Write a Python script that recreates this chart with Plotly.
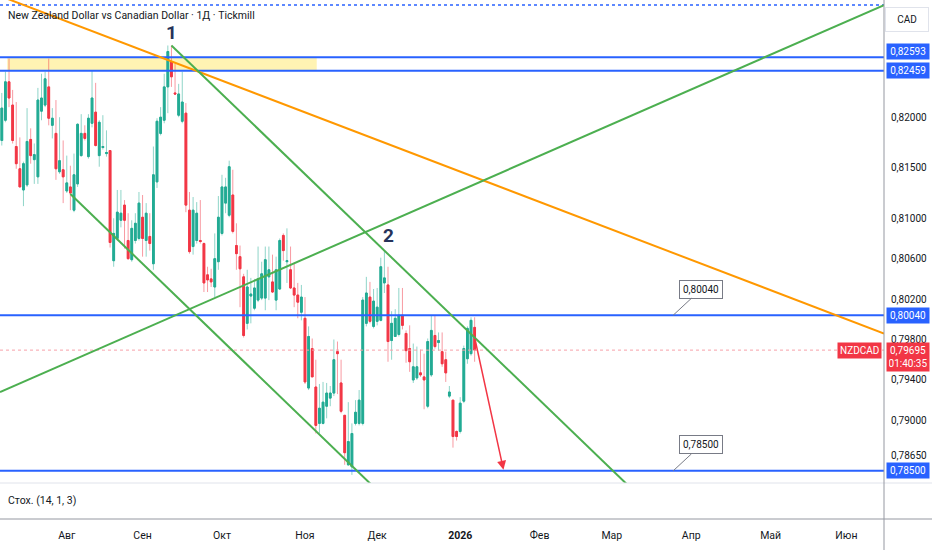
import pandas as pd
import plotly.graph_objects as go

# daily bars NZDCAD, Tickmill, weekdays from 8 Jul 2025
dates = pd.bdate_range("2025-07-08", periods=132)

opens = [0.8177, 0.8197, 0.8235, 0.8212, 0.8171, 0.8149, 0.8128, 0.8133, 0.8178, 0.8158,
         0.8141, 0.8206, 0.8212, 0.8230, 0.8192, 0.8184, 0.8146, 0.8148, 0.8127, 0.8131,
         0.8108, 0.8134, 0.8162, 0.8184, 0.8161, 0.8194, 0.8205, 0.8162, 0.8170, 0.8164,
         0.8167, 0.8058, 0.8080, 0.8098, 0.8113, 0.8078, 0.8059, 0.8078, 0.8080, 0.8101,
         0.8078, 0.8082, 0.8055, 0.8136, 0.8184, 0.8197, 0.8230, 0.8255, 0.8224, 0.8202,
         0.8196, 0.8204, 0.8108, 0.8072, 0.8078, 0.8078, 0.8075, 0.8044, 0.8040, 0.8032,
         0.8057, 0.8085, 0.8115, 0.8103, 0.8123, 0.8073, 0.8062, 0.8042, 0.7996, 0.8023,
         0.8011, 0.8019, 0.8021, 0.8021, 0.8042, 0.8037, 0.8019, 0.8030, 0.8083, 0.8057,
         0.8049, 0.8031, 0.8024, 0.8007, 0.8001, 0.7932, 0.7971, 0.7933, 0.7897, 0.7897,
         0.7914, 0.7922, 0.7927, 0.7968, 0.7937, 0.7905, 0.7856, 0.7854, 0.7897, 0.7897,
         0.7897, 0.7996, 0.8022, 0.7993, 0.7998, 0.7999, 0.8036, 0.8034, 0.7979, 0.7983,
         0.7985, 0.8004, 0.7986, 0.7971, 0.7940, 0.7942, 0.7947, 0.7943, 0.7914, 0.7945,
         0.7984, 0.7977, 0.7968, 0.7960, 0.7924, 0.7920, 0.7889, 0.7889, 0.7919, 0.7961,
         0.7966, 0.7992]
highs = [0.8224, 0.8245, 0.8258, 0.8227, 0.8215, 0.8180, 0.8156, 0.8209, 0.8189, 0.8174,
         0.8229, 0.8243, 0.8245, 0.8258, 0.8209, 0.8217, 0.8200, 0.8177, 0.8162, 0.8152,
         0.8164, 0.8194, 0.8203, 0.8192, 0.8203, 0.8246, 0.8234, 0.8197, 0.8202, 0.8187,
         0.8167, 0.8100, 0.8128, 0.8128, 0.8118, 0.8105, 0.8098, 0.8105, 0.8126, 0.8123,
         0.8115, 0.8105, 0.8171, 0.8199, 0.8210, 0.8243, 0.8271, 0.8271, 0.8253, 0.8233,
         0.8245, 0.8214, 0.8126, 0.8121, 0.8116, 0.8118, 0.8076, 0.8052, 0.8050, 0.8085,
         0.8122, 0.8143, 0.8140, 0.8157, 0.8148, 0.8095, 0.8073, 0.8045, 0.8049, 0.8041,
         0.8040, 0.8072, 0.8057, 0.8072, 0.8072, 0.8064, 0.8062, 0.8080, 0.8085, 0.8090,
         0.8072, 0.8055, 0.8036, 0.8034, 0.8022, 0.7993, 0.7981, 0.7960, 0.7936, 0.7938,
         0.7937, 0.7934, 0.7980, 0.7978, 0.7960, 0.7905, 0.7918, 0.7897, 0.7920, 0.7930,
         0.8022, 0.8042, 0.8037, 0.8030, 0.8031, 0.8061, 0.8068, 0.8052, 0.8008, 0.8010,
         0.8031, 0.8031, 0.7989, 0.7994, 0.7976, 0.7973, 0.7970, 0.7966, 0.7981, 0.8004,
         0.8004, 0.7987, 0.7987, 0.7968, 0.7934, 0.7920, 0.7890, 0.7923, 0.7974, 0.7993,
         0.8002, 0.8002]
lows = [0.8172, 0.8195, 0.8210, 0.8174, 0.8149, 0.8131, 0.8112, 0.8131, 0.8154, 0.8134,
        0.8134, 0.8197, 0.8210, 0.8192, 0.8179, 0.8138, 0.8144, 0.8115, 0.8125, 0.8108,
        0.8106, 0.8131, 0.8161, 0.8177, 0.8159, 0.8190, 0.8171, 0.8151, 0.8168, 0.8161,
        0.8071, 0.8052, 0.8078, 0.8091, 0.8070, 0.8059, 0.8057, 0.8075, 0.8078, 0.8062,
        0.8062, 0.8068, 0.8049, 0.8130, 0.8182, 0.8194, 0.8204, 0.8230, 0.8222, 0.8200,
        0.8194, 0.8106, 0.8065, 0.8064, 0.8075, 0.8075, 0.8027, 0.8027, 0.8032, 0.8022,
        0.8049, 0.8083, 0.8105, 0.8101, 0.8085, 0.8049, 0.8012, 0.7982, 0.7990, 0.7996,
        0.8009, 0.8017, 0.8019, 0.8009, 0.8019, 0.8026, 0.8009, 0.8029, 0.8058, 0.8036,
        0.8030, 0.8012, 0.8001, 0.7999, 0.7936, 0.7930, 0.7943, 0.7887, 0.7887, 0.7896,
        0.7902, 0.7914, 0.7924, 0.7926, 0.7907, 0.7856, 0.7855, 0.7846, 0.7895, 0.7895,
        0.7895, 0.7993, 0.7996, 0.7991, 0.7994, 0.7998, 0.8026, 0.7958, 0.7960, 0.7983,
        0.7983, 0.7990, 0.7957, 0.7948, 0.7937, 0.7940, 0.7943, 0.7911, 0.7912, 0.7943,
        0.7971, 0.7969, 0.7953, 0.7938, 0.7922, 0.7873, 0.7880, 0.7887, 0.7917, 0.7956,
        0.7964, 0.7958]
closes = [0.8209, 0.8235, 0.8219, 0.8177, 0.8154, 0.8131, 0.8154, 0.8176, 0.8162, 0.8163,
          0.8217, 0.8219, 0.8238, 0.8199, 0.8199, 0.8149, 0.8157, 0.8141, 0.8135, 0.8125,
          0.8143, 0.8193, 0.8184, 0.8179, 0.8199, 0.8219, 0.8172, 0.8195, 0.8171, 0.8165,
          0.8076, 0.8085, 0.8106, 0.8105, 0.8098, 0.8060, 0.8090, 0.8095, 0.8115, 0.8080,
          0.8105, 0.8075, 0.8143, 0.8196, 0.8200, 0.8230, 0.8265, 0.8240, 0.8223, 0.8223,
          0.8215, 0.8113, 0.8067, 0.8108, 0.8105, 0.8077, 0.8036, 0.8039, 0.8037, 0.8060,
          0.8101, 0.8131, 0.8131, 0.8151, 0.8087, 0.8065, 0.8050, 0.7984, 0.8032, 0.8025,
          0.8031, 0.8040, 0.8045, 0.8059, 0.8049, 0.8027, 0.8049, 0.8078, 0.8068, 0.8058,
          0.8031, 0.8024, 0.8017, 0.8022, 0.7938, 0.7983, 0.7943, 0.7895, 0.7912, 0.7918,
          0.7927, 0.7927, 0.7960, 0.7966, 0.7909, 0.7868, 0.7879, 0.7887, 0.7908, 0.7920,
          0.8019, 0.8026, 0.7998, 0.8018, 0.8012, 0.8052, 0.8041, 0.7978, 0.7996, 0.8001,
          0.8004, 0.7994, 0.7969, 0.7958, 0.7953, 0.7953, 0.7945, 0.7940, 0.7978, 0.7989,
          0.7973, 0.7979, 0.7956, 0.7947, 0.7928, 0.7884, 0.7884, 0.7917, 0.7971, 0.7991,
          0.7999, 0.79695]

last_price = 0.79695
countdown = "01:40:35"

# price scale on the right
price_ticks = [0.82, 0.815, 0.81, 0.806, 0.802, 0.798, 0.794, 0.79, 0.7865]
price_tick_text = ["0,82000", "0,81500", "0,81000", "0,80600", "0,80200",
                   "0,79800", "0,79400", "0,79000", "0,78650"]

# months on the time scale
month_days = ["2025-08-01", "2025-09-01", "2025-10-01", "2025-11-03", "2025-12-01", "2026-01-01",
              "2026-02-02", "2026-03-02", "2026-04-01", "2026-05-01", "2026-06-01"]
month_names = ["Авг", "Сен", "Окт", "Ноя", "Дек", "<b>2026</b>", "Фев", "Мар", "Апр", "Май", "Июн"]

# drawings: horizontal levels, zone, trend lines
levels = [0.82593, 0.82459, 0.80040, 0.78500]
level_text = ["0,82593", "0,82459", "0,80040", "0,78500"]
top_dotted = 0.8311
zone_days = ["2025-07-09 12:00", "2025-11-06 06:00"]
zone_prices = [0.82459, 0.82593]

orange_days, orange_prices = ["2025-07-07 12:00", "2026-06-15 10:00"], [0.8320, 0.7986]
rise_days, rise_prices = ["2025-07-07 12:00", "2026-06-15 10:00"], [0.7928, 0.8311]
chan_top_days, chan_top_prices = ["2025-09-11", "2026-03-20"], [0.8271, 0.7803]
chan_bot_days, chan_bot_prices = ["2025-08-04", "2025-12-05"], [0.8124, 0.7817]

arrow_days, arrow_prices = ["2026-01-07", "2026-01-19"], [0.7982, 0.7851]
note_days = ["2026-03-25", "2026-03-25"]
note_prices = [0.80040, 0.78500]
wave_days = ["2025-09-11", "2025-12-04"]
wave_prices = [0.8284, 0.8083]

x_range = ["2025-07-07 12:00", "2026-06-15 10:00"]
y_range = [0.7838, 0.8316]

UP, DOWN = "#22ab94", "#f23645"
UP_WICK, DOWN_WICK = "rgba(34,171,148,0.5)", "rgba(242,54,69,0.5)"
BLUE = "#2962ff"
TXT = "#131722"
FONT = "Roboto, sans-serif"

fig = go.Figure()
# wicks (lighter), then solid bodies on top
fig.add_trace(go.Candlestick(
    x=dates, open=opens, high=highs, low=lows, close=closes,
    increasing=dict(line=dict(color=UP_WICK, width=1), fillcolor=UP_WICK),
    decreasing=dict(line=dict(color=DOWN_WICK, width=1), fillcolor=DOWN_WICK),
    whiskerwidth=0, showlegend=False, hoverinfo="skip",
))
body_top = [max(o, c) for o, c in zip(opens, closes)]
body_bot = [min(o, c) for o, c in zip(opens, closes)]
fig.add_trace(go.Candlestick(
    x=dates, open=opens, high=body_top, low=body_bot, close=closes,
    increasing=dict(line=dict(color=UP, width=1), fillcolor=UP),
    decreasing=dict(line=dict(color=DOWN, width=1), fillcolor=DOWN),
    whiskerwidth=0, showlegend=False, hoverinfo="skip",
))
# empty pane for the stochastic / time scale
fig.add_trace(go.Scatter(x=[dates[0]], y=[0.5], mode="markers", marker=dict(opacity=0),
                         xaxis="x2", yaxis="y2", showlegend=False, hoverinfo="skip"))

shapes = []
shapes.append(dict(type="rect", xref="x", yref="y", x0=zone_days[0], x1=zone_days[1],
                   y0=zone_prices[0], y1=zone_prices[1], fillcolor="#fff3b3",
                   line=dict(width=0), layer="below"))
for p in levels:
    shapes.append(dict(type="line", xref="x domain", yref="y", x0=0, x1=1, y0=p, y1=p,
                       line=dict(color=BLUE, width=2)))
shapes.append(dict(type="line", xref="x domain", yref="y", x0=0, x1=1, y0=top_dotted, y1=top_dotted,
                   line=dict(color=BLUE, width=1.5, dash="dot")))
shapes.append(dict(type="line", xref="x domain", yref="y", x0=0, x1=1, y0=last_price, y1=last_price,
                   line=dict(color="#f7a1a8", width=1, dash="dot")))
for d, p, c in [(orange_days, orange_prices, "#ff9800"), (rise_days, rise_prices, "#4caf50"),
                (chan_top_days, chan_top_prices, "#4caf50"), (chan_bot_days, chan_bot_prices, "#4caf50")]:
    shapes.append(dict(type="line", xref="x", yref="y", x0=d[0], x1=d[1], y0=p[0], y1=p[1],
                       line=dict(color=c, width=2)))

# pane separators
shapes.append(dict(type="line", xref="paper", yref="paper", x0=0, x1=1, y0=1 - 483 / 550, y1=1 - 483 / 550,
                   line=dict(color="#e0e3eb", width=1)))
shapes.append(dict(type="line", xref="paper", yref="paper", x0=0, x1=1, y0=1 - 519 / 550, y1=1 - 519 / 550,
                   line=dict(color="#9598a1", width=1)))
shapes.append(dict(type="line", xref="paper", yref="paper", x0=884 / 932, x1=884 / 932, y0=0, y1=1,
                   line=dict(color="#9598a1", width=1)))

ann = []
ann.append(dict(xref="paper", yref="paper", x=6 / 932, y=1 - 16 / 550, xanchor="left", yanchor="middle",
                text="New Zealand Dollar vs Canadian Dollar · 1Д · Tickmill", showarrow=False,
                font=dict(size=10.5, color=TXT)))
ann.append(dict(xref="paper", yref="paper", x=6 / 932, y=1 - 500 / 550, xanchor="left", yanchor="middle",
                text="Стох. (14, 1, 3)", showarrow=False, font=dict(size=10.5, color=TXT)))
ann.append(dict(xref="paper", yref="paper", x=907 / 932, y=1 - 19 / 550, xanchor="center", yanchor="middle",
                text="CAD", showarrow=False, bgcolor="white", bordercolor="#e0e3eb", borderwidth=1,
                borderpad=6, width=30, font=dict(size=10, color=TXT)))
for p, t, s in zip(levels, level_text, [6, 0, 0, 0]):
    ann.append(dict(xref="paper", yref="y", x=886 / 932, y=p, xanchor="left", yanchor="middle", yshift=s,
                    text=t, showarrow=False, bgcolor=BLUE, borderpad=2, width=38,
                    font=dict(size=10, color="white")))
ann.append(dict(xref="paper", yref="y", x=886 / 932, y=last_price, xanchor="left", yanchor="top", yshift=8,
                text="0,79695<br>" + countdown, showarrow=False, bgcolor=DOWN, borderpad=2, width=38,
                font=dict(size=10, color="white")))
ann.append(dict(xref="paper", yref="y", x=882 / 932, y=last_price, xanchor="right", yanchor="middle",
                text="NZDCAD", showarrow=False, bgcolor=DOWN, borderpad=2,
                font=dict(size=10, color="white")))
for d, p, t in zip(note_days, note_prices, ["0,80040", "0,78500"]):
    ann.append(dict(xref="x", yref="y", x=d, y=p, ax=28, ay=-26, text=t, showarrow=True,
                    arrowhead=0, arrowwidth=1, arrowcolor="#787b86", bgcolor="white",
                    bordercolor="#787b86", borderwidth=1, borderpad=3,
                    font=dict(size=10, color=TXT)))
ann.append(dict(xref="x", yref="y", x=arrow_days[1], y=arrow_prices[1], axref="x", ayref="y",
                ax=arrow_days[0], ay=arrow_prices[0], text="", showarrow=True,
                arrowhead=2, arrowsize=1.2, arrowwidth=1.5, arrowcolor=DOWN))
for d, p, t in zip(wave_days, wave_prices, ["1", "2"]):
    ann.append(dict(xref="x", yref="y", x=d, y=p, text="<b>" + t + "</b>", showarrow=False,
                    font=dict(size=19, color="#27335a")))

breaks = [dict(bounds=["sat", "mon"])]
fig.update_layout(
    width=932, height=550, margin=dict(l=0, r=0, t=0, b=0),
    paper_bgcolor="white", plot_bgcolor="white",
    font=dict(family=FONT, size=10, color=TXT),
    showlegend=False, shapes=shapes, annotations=ann,
    xaxis=dict(domain=[0, 884 / 932], range=x_range, rangebreaks=breaks, showgrid=False,
               showticklabels=False, zeroline=False, rangeslider=dict(visible=False), anchor="y"),
    yaxis=dict(domain=[1 - 483 / 550, 1], range=y_range, side="right", showgrid=False, zeroline=False,
               tickvals=price_ticks, ticktext=price_tick_text, ticks="outside", ticklen=4,
               tickcolor="rgba(0,0,0,0)", tickfont=dict(size=10, color=TXT), anchor="x"),
    xaxis2=dict(domain=[0, 884 / 932], matches="x", range=x_range, rangebreaks=breaks, anchor="y2",
                showgrid=False, zeroline=False, tickvals=month_days, ticktext=month_names,
                ticks="outside", ticklen=6, tickcolor="rgba(0,0,0,0)", tickfont=dict(size=10.5, color=TXT)),
    yaxis2=dict(domain=[31 / 550, 1 - 483 / 550], range=[0, 1], showgrid=False, zeroline=False,
                showticklabels=False, anchor="x2"),
)

fig.write_html("out.html", config={"displayModeBar": False},
               post_script="document.body.style.margin='0';")
